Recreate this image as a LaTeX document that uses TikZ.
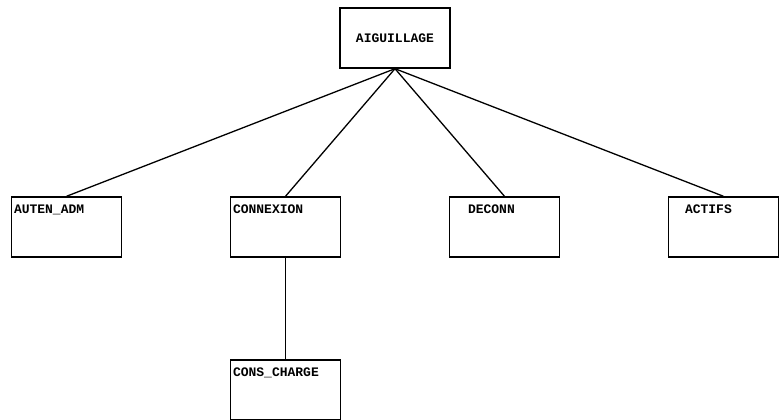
\documentclass[tikz,border=0pt]{standalone}
\usepackage{fontspec}
\newfontfamily\boxfont{Liberation Mono}
\usepackage{tikz}

\begin{document}
\begin{tikzpicture}[x=1pt, y=1pt,
    box/.style={rectangle, draw, line width=1.4pt, minimum width=110pt, minimum height=60pt, inner sep=0pt, font=\boxfont\bfseries\fontsize{13}{13}\selectfont},
    lbl/.style={anchor=north west, inner sep=3pt, yshift=-5pt, font=\boxfont\bfseries\fontsize{13}{13}\selectfont},
    level distance=189pt, level 1/.style={sibling distance=219pt}, level 2/.style={level distance=163pt},
    edge from parent/.style={draw, line width=1.3pt},
    edge from parent path={(\tikzparentnode.south) -- (\tikzchildnode.north)}]
      \useasboundingbox (0,0) rectangle (780,-420);
      \node[box] (aig) at (395,-38) {AIGUILLAGE}
        child {node[box, label={[lbl]north west:AUTEN\_ADM}] (auten) {}}
        child {node[box, label={[lbl]north west:CONNEXION}] (conn) {}
          child {node[box, label={[lbl]north west:CONS\_CHARGE}] (cons) {}}
        }
        child {node[box, label={[lbl, xshift=16pt]north west:DECONN}] (deconn) {}}
        child {node[box, label={[lbl, xshift=14pt]north west:ACTIFS}] (actifs) {}};
    \end{tikzpicture}
\end{document}
